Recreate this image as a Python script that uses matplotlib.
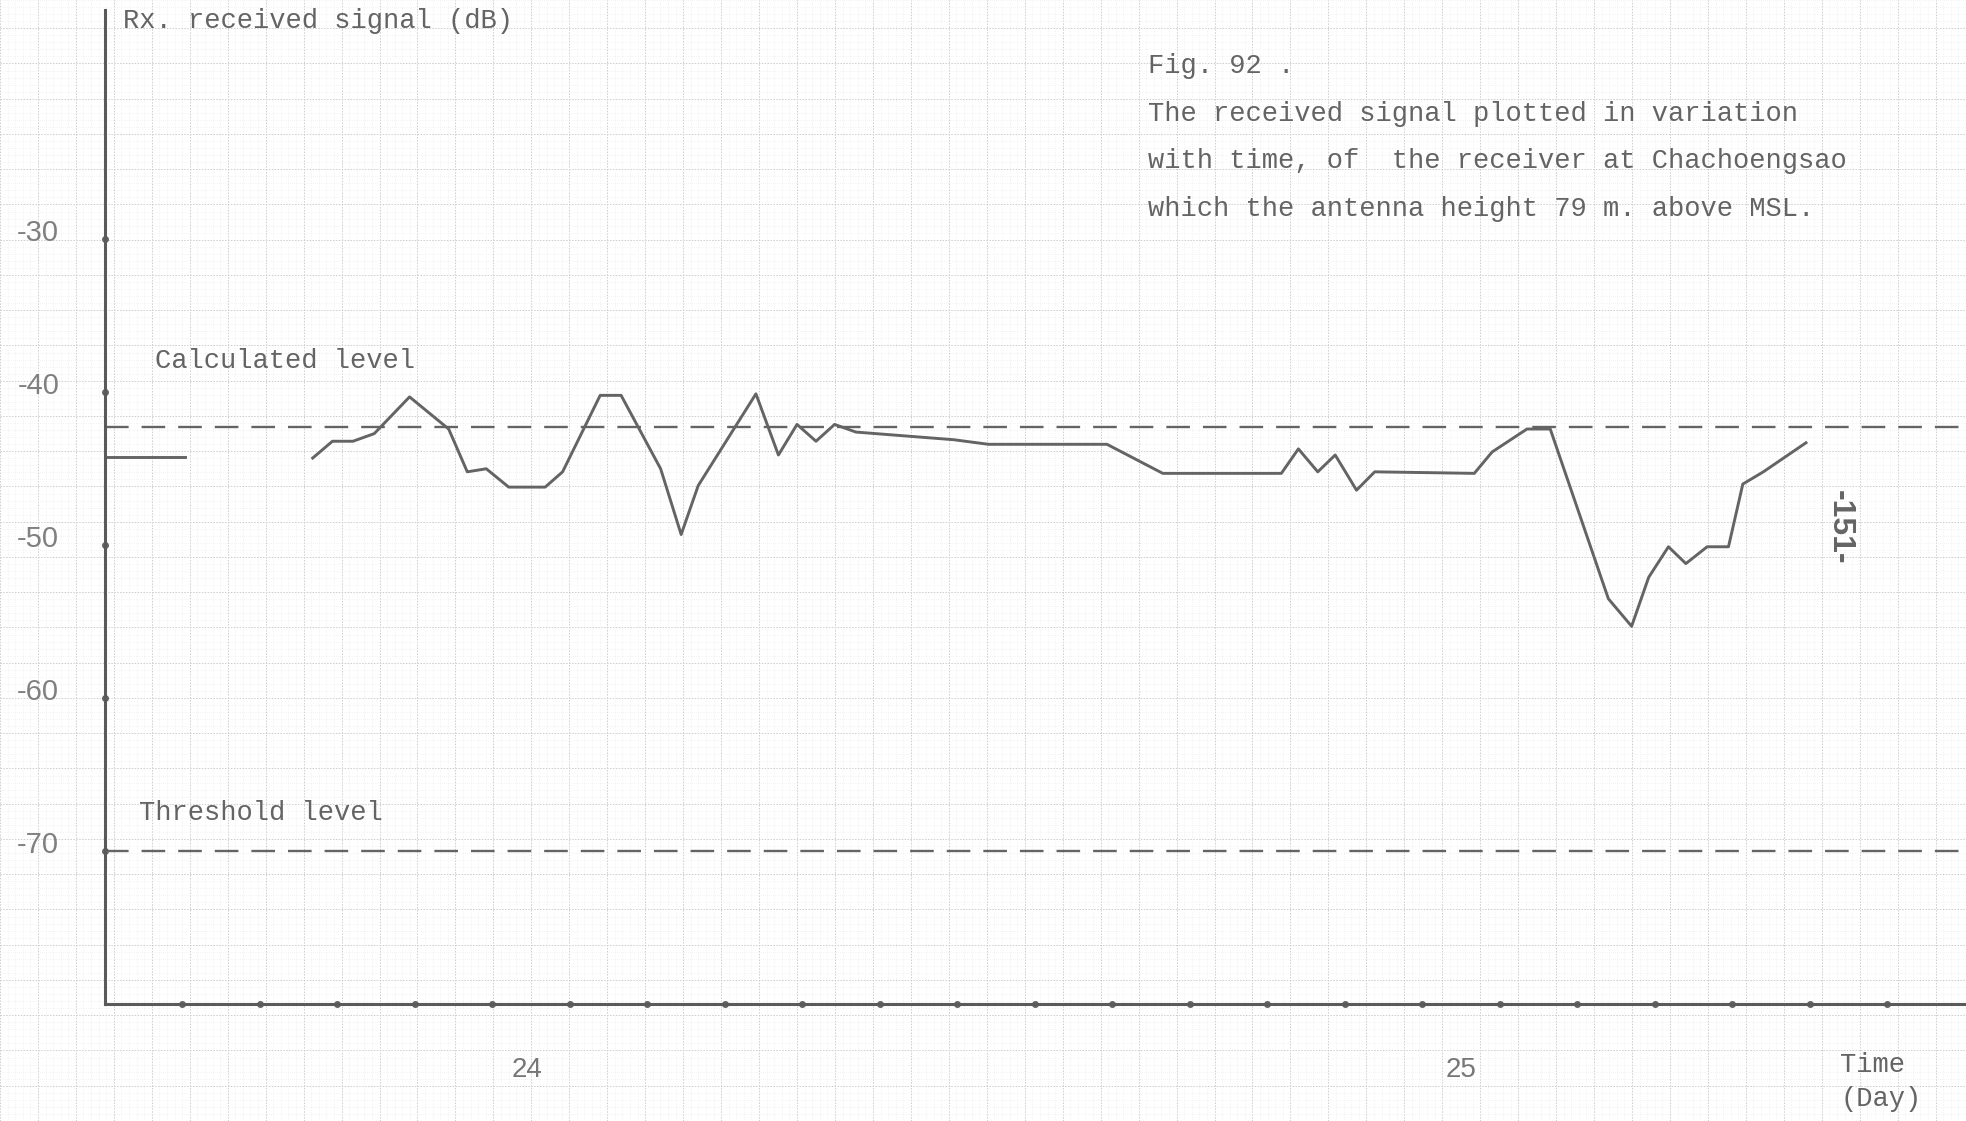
import numpy as np
import matplotlib.pyplot as plt
from matplotlib.transforms import ScaledTranslation

# Rx signal, time in hours from the y axis
early_hours = [0.0, 2.07]
early_db = [-44.2, -44.2]

late_hours = [5.36, 5.87, 6.40, 6.95, 7.86, 8.87, 9.35, 9.84, 10.42, 11.36, 11.81,
              12.78, 13.32, 14.34, 14.87, 15.31, 16.80, 17.38, 17.86, 18.35, 18.83,
              19.38, 21.9, 22.8, 25.86, 27.3, 30.36, 30.8, 31.3, 31.75, 32.3, 32.77,
              35.34, 35.8, 36.7, 37.3, 38.8, 39.4, 39.84, 40.35, 40.8, 41.35, 41.9,
              42.27, 42.8, 43.9]
late_db = [-44.3, -43.2, -43.2, -42.7, -40.3, -42.4, -45.2, -45.0, -46.2, -46.2, -45.2,
           -40.2, -40.2, -45.0, -49.3, -46.1, -40.1, -44.1, -42.1, -43.2, -42.1,
           -42.6, -43.1, -43.4, -43.4, -45.3, -45.3, -43.7, -45.2, -44.1, -46.4, -45.2,
           -45.3, -43.9, -42.4, -42.4, -53.5, -55.3, -52.1, -50.1, -51.2, -50.1, -50.1,
           -46.0, -45.2, -43.3]

calculated_level = -42.3
threshold_level = -70.0

y_ticks = [-30, -40, -50, -60, -70]
day_pos = [10.9, 35.0]
day_labels = ['24', '25']
axis_dots = np.arange(2, 47, 2)

ink = '#646464'
mono = 'Liberation Mono'

fig = plt.figure(figsize=(19.66, 11.21), dpi=100)

# main axes placement
left, bottom = 105 / 1966, 1 - 1004 / 1121
top = 1 - 10 / 1121
width, height = 1 - left, top - bottom
x_lim = (0, 48.03)
y_lim = (-80, -15)

# graph paper behind everything
bg = fig.add_axes([0, 0, 1, 1], zorder=0)
xs = (x_lim[1] - x_lim[0]) / width
ys = (y_lim[1] - y_lim[0]) / height
bg.set_xlim(x_lim[0] - left * xs, x_lim[1])
bg.set_ylim(y_lim[0] - bottom * ys, y_lim[1] + (1 - top) * ys)
bg.set_xticks(np.arange(-3, 49, 1))
bg.set_xticks(np.arange(-3, 49, 0.2), minor=True)
bg.set_yticks(np.arange(-90, -10, 2.5))
bg.set_yticks(np.arange(-90, -10, 0.5), minor=True)
bg.grid(which='major', color='#cdcdcd', lw=0.7, ls=(0, (1.5, 1.5)))
bg.grid(which='minor', color='#e8e8e8', lw=0.5, ls=(0, (1, 2)))
bg.tick_params(which='both', length=0, labelbottom=False, labelleft=False)
for s in bg.spines.values():
    s.set_visible(False)

ax = fig.add_axes([left, bottom, width, height], zorder=1)
ax.patch.set_alpha(0)
ax.set_xlim(*x_lim)
ax.set_ylim(*y_lim)

ax.plot(early_hours, early_db, color=ink, lw=2.1)
ax.plot(late_hours, late_db, color=ink, lw=2.1)

ax.axhline(calculated_level, color=ink, lw=1.7, dashes=(10, 5.5))
ax.axhline(threshold_level, color=ink, lw=1.7, dashes=(10, 5.5))

ax.plot(axis_dots, [y_lim[0]] * len(axis_dots), 'o', ms=4, color=ink, clip_on=False)
ax.plot([0] * len(y_ticks), y_ticks, 'o', ms=4, color=ink, clip_on=False)

for side in ['top', 'right']:
    ax.spines[side].set_visible(False)
for side in ['left', 'bottom']:
    ax.spines[side].set_color('#5a5a5a')
    ax.spines[side].set_linewidth(2.2)

ax.set_yticks(y_ticks)
ax.set_yticklabels([str(v) for v in y_ticks], family='Liberation Sans',
                   fontsize=21, color='#808080')
ax.set_xticks(day_pos)
ax.set_xticklabels(day_labels, family='Liberation Sans', fontsize=20, color='#777777')
ax.tick_params(axis='y', length=0, pad=33)
ax.tick_params(axis='x', length=0, pad=38)
# the typed numbers sit a little above their tick dots
lift = ScaledTranslation(0, 0.09, fig.dpi_scale_trans)
for lab in ax.get_yticklabels():
    lab.set_transform(lab.get_transform() + lift)

ax.text(1.29, -37.96, 'Calculated level', family=mono, fontsize=19.5,
        color=ink, va='center')
ax.text(0.87, -67.5, 'Threshold level', family=mono, fontsize=19.5,
        color=ink, va='center')

fig.text(0.0625, 0.981, 'Rx. received signal (dB)', family=mono, fontsize=19.5,
         color=ink, va='center')

caption = ['Fig. 92 .',
           'The received signal plotted in variation',
           'with time, of  the receiver at Chachoengsao',
           'which the antenna height 79 m. above MSL.']
for i, line in enumerate(caption):
    fig.text(0.584, 0.941 - i * 0.0424, line, family=mono, fontsize=19.5,
             color=ink, va='center')

fig.text(0.936, 0.050, 'Time', family=mono, fontsize=19.5, color=ink, va='center')
fig.text(0.936, 0.020, '(Day)', family=mono, fontsize=19.5, color=ink, va='center')

fig.text(0.936, 0.530, '-151-', family='Liberation Sans', fontsize=23,
         weight='bold', color=ink, rotation=-90, ha='center', va='center')

fig.savefig('out.png', dpi=100)
plt.close(fig)
